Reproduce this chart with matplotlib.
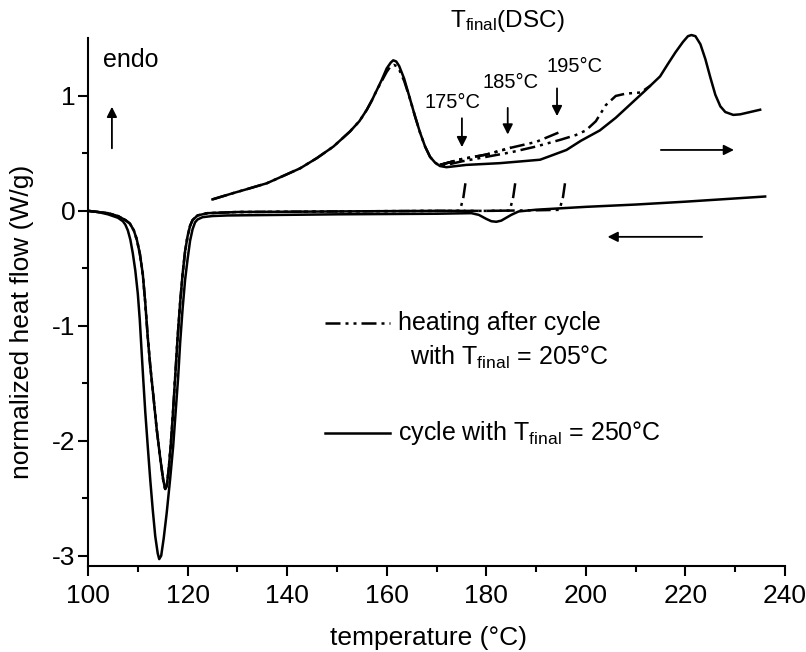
import numpy as np
import matplotlib
matplotlib.use("Agg")
import matplotlib.pyplot as plt

plt.rcParams['font.family'] = ['Liberation Sans', 'DejaVu Sans']
plt.rcParams['mathtext.fontset'] = 'custom'
plt.rcParams['mathtext.rm'] = 'Liberation Sans'
plt.rcParams['mathtext.it'] = 'Liberation Sans'
plt.rcParams['axes.unicode_minus'] = False

# solid: cycle with T_final = 250 C, cooling run
cool_x = [100, 102, 104, 106, 107, 107.5, 108, 108.5, 109, 109.5, 110, 110.4, 110.8, 111.1,
          111.5, 112, 112.5, 113, 113.5, 114, 114.3, 114.7, 115.2, 115.8, 116.5, 117.1, 117.6,
          118.1, 118.5, 119, 119.5, 120, 120.5, 121, 121.5, 122, 123, 125, 128, 150, 170,
          177, 178.5, 180, 181, 182, 183, 184, 185, 186.5, 190, 200, 210, 220, 236]
cool_y = [0, -0.01, -0.03, -0.06, -0.09, -0.12, -0.17, -0.25, -0.37, -0.52, -0.72, -0.95,
          -1.25, -1.47, -1.75, -2.05, -2.34, -2.6, -2.83, -2.98, -3.03, -3.0, -2.85, -2.63,
          -2.33, -2.05, -1.75, -1.45, -1.15, -0.85, -0.6, -0.42, -0.26, -0.16, -0.1, -0.075,
          -0.055, -0.045, -0.04, -0.03, -0.025, -0.02, -0.035, -0.07, -0.09, -0.095, -0.085,
          -0.06, -0.035, -0.005, 0.01, 0.035, 0.055, 0.08, 0.125]

# solid: cycle with T_final = 250 C, heating run
heat_x = [125, 129.2, 132, 135.9, 139, 142.6, 146, 149.3, 152.6, 154.5, 156, 157, 158, 159,
          160, 160.8, 161.3, 161.9, 162.5, 163.5, 164.7, 165.7, 166.7, 167.7, 168.7, 169.7,
          170.7, 172, 176, 182.7, 186.8, 190.8, 193, 196.1, 199, 202.8, 206, 209.5, 212,
          214.9, 216.5, 218, 219.5, 220.5, 221.2, 222, 223, 224, 225, 226, 227, 228, 229.6,
          231, 233, 235]
heat_y = [0.10, 0.155, 0.19, 0.24, 0.30, 0.37, 0.46, 0.56, 0.69, 0.78, 0.88, 0.96, 1.05,
          1.14, 1.24, 1.29, 1.31, 1.30, 1.26, 1.15, 0.97, 0.82, 0.68, 0.56, 0.47, 0.42,
          0.39, 0.38, 0.40, 0.415, 0.43, 0.445, 0.48, 0.53, 0.61, 0.70, 0.81, 0.95, 1.05,
          1.17, 1.28, 1.38, 1.47, 1.52, 1.53, 1.52, 1.45, 1.32, 1.16, 1.01, 0.91, 0.86, 0.835,
          0.84, 0.86, 0.88]

# dash-dot: heating after cycle with T_final = 205 C
dd_heat_x = [125, 129.2, 132, 135.9, 139, 142.6, 146, 149.3, 152.6, 154.5, 156, 157, 158, 159,
             160, 160.8, 161.4, 162, 162.6, 163.5, 164.7, 165.7, 166.7, 167.7, 168.7, 169.7,
             170.7, 172, 175, 180, 185, 190, 195, 198, 200, 202, 204, 206, 208, 211, 213]
dd_heat_y = [0.10, 0.155, 0.19, 0.24, 0.30, 0.37, 0.46, 0.56, 0.69, 0.78, 0.88, 0.96, 1.05,
             1.13, 1.21, 1.26, 1.27, 1.26, 1.22, 1.13, 0.97, 0.82, 0.68, 0.56, 0.47, 0.42,
             0.39, 0.40, 0.43, 0.47, 0.51, 0.56, 0.62, 0.66, 0.70, 0.78, 0.92, 1.00, 1.02, 1.03,
             1.09]

# dash-dot: partial heating runs up to T_final(DSC), shared trace
part_x = [170.7, 175, 180, 185, 190, 195]
part_y = [0.40, 0.45, 0.49, 0.55, 0.60, 0.69]

# dash-dot: cooling after T_final(DSC), shared trace
dd_cool_x = [100, 104, 106, 107.5, 108.4, 109.2, 109.8, 110.4, 111, 111.5, 112, 112.5, 113.1,
             113.8, 114.5, 115.1, 115.5, 115.8, 116.2, 116.6, 117, 117.5, 118, 118.5, 119,
             119.5, 120, 120.5, 121, 122, 124, 130, 150, 170, 180, 190, 196]
dd_cool_y = [0, -0.02, -0.045, -0.08, -0.11, -0.17, -0.25, -0.37, -0.55, -0.8, -1.1, -1.35,
             -1.6, -1.9, -2.15, -2.34, -2.42, -2.4, -2.25, -2.05, -1.8, -1.45, -1.1, -0.8,
             -0.55, -0.35, -0.22, -0.13, -0.08, -0.04, -0.02, -0.01, -0.005, 0.0, 0.0, 0.005,
             0.01]

tfinal = [175, 185, 195]
tfinal_labels = ['175°C', '185°C', '195°C']

fig = plt.figure(figsize=(8.06, 6.52), dpi=100)
ax = fig.add_axes([0.1092, 0.1319, 0.8648, 0.8098])

dd = (0, (6, 2, 1.2, 2, 1.2, 2))
lw = 1.8

ax.plot(cool_x, cool_y, color='black', lw=lw)
ax.plot(heat_x, heat_y, color='black', lw=lw, clip_on=False)
ax.plot(dd_heat_x, dd_heat_y, color='black', lw=lw, linestyle=dd)

px = np.array(part_x)
py = np.array(part_y)
cx = np.array(dd_cool_x)
cy = np.array(dd_cool_y)
for t in tfinal:
    m = px <= t + 0.01
    hx = list(px[m]) + [t]
    hy = list(py[m]) + [np.interp(t, px, py)]
    ax.plot(hx, hy, color='black', lw=lw, linestyle=dd)
    # turning point: drop from the heating trace down to the cooling baseline
    mc = cx <= t - 0.3
    kx = [t + 0.8, t + 0.4] + [t - 0.3] + list(cx[mc][::-1])
    ky = [0.24, 0.12] + [np.interp(t - 0.3, cx, cy)] + list(cy[mc][::-1])
    ax.plot(kx, ky, color='black', lw=lw, linestyle=dd)

ax.set_xlim(100, 240)
ax.set_ylim(-3.09, 1.504)
ax.set_xticks(np.arange(100, 241, 20))
ax.set_xticks(np.arange(110, 240, 20), minor=True)
ax.set_yticks([-3, -2, -1, 0, 1])
ax.set_yticks([-2.5, -1.5, -0.5, 0.5], minor=True)
ax.tick_params(which='major', direction='out', length=7, width=1.5, labelsize=19)
ax.tick_params(which='minor', direction='out', length=4, width=1.5)
ax.tick_params(axis='x', pad=6)
ax.tick_params(axis='y', pad=2)
for s in ['top', 'right']:
    ax.spines[s].set_visible(False)
for s in ['left', 'bottom']:
    ax.spines[s].set_linewidth(1.5)

ax.set_xlabel('temperature (°C)', fontsize=19)
ax.set_ylabel('normalized heat flow (W/g)', fontsize=19)
ax.xaxis.set_label_coords(0.488, -0.114)
ax.yaxis.set_label_coords(-0.078, 0.462)

arrow_kw = dict(arrowstyle='-|>', color='black', lw=1.3, mutation_scale=15)

# annotations
ax.text(103.0, 1.31, 'endo', fontsize=18, va='center', ha='left')
ax.annotate('', xy=(104.8, 0.93), xytext=(104.8, 0.52), arrowprops=arrow_kw)
ax.text(172.8, 1.65, r'T$_{\mathrm{final}}$(DSC)', fontsize=17.5, va='center', ha='left',
        clip_on=False)

label_x = [173.3, 184.8, 197.8]
label_y = [0.94, 1.12, 1.255]
arrow_x = [175.1, 184.3, 194.2]
arrow_top = [0.83, 0.92, 1.09]
arrow_bot = [0.53, 0.64, 0.80]
for lx, ly, lab, xa, at, ab in zip(label_x, label_y, tfinal_labels, arrow_x, arrow_top, arrow_bot):
    ax.text(lx, ly, lab, fontsize=14.5, ha='center', va='center')
    ax.annotate('', xy=(xa, ab), xytext=(xa, at), arrowprops=arrow_kw)

ax.annotate('', xy=(230.3, 0.53), xytext=(214.5, 0.53), arrowprops=arrow_kw)
ax.annotate('', xy=(203.8, -0.226), xytext=(223.9, -0.226), arrowprops=arrow_kw)

# legend drawn by hand, as in the original
ax.plot([147.6, 160.7], [-0.974, -0.974], color='black', lw=lw, linestyle=dd)
ax.text(162.3, -0.974, 'heating after cycle', fontsize=18, va='center', ha='left')
ax.text(164.7, -1.278, r'with T$_{\mathrm{final}}$ = 205°C', fontsize=18, va='center', ha='left')
ax.plot([147.6, 160.7], [-1.93, -1.93], color='black', lw=lw)
ax.text(162.3, -1.93, r'cycle with T$_{\mathrm{final}}$ = 250°C', fontsize=18, va='center',
        ha='left')

fig.savefig('out.png', dpi=100)
